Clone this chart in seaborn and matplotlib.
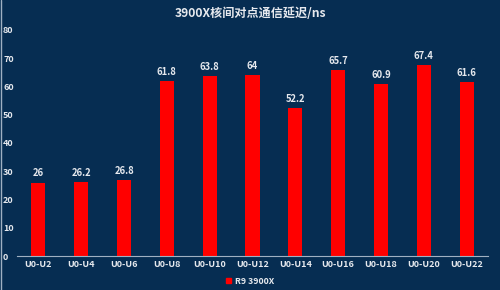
import matplotlib
matplotlib.use("Agg")
import matplotlib.pyplot as plt
import seaborn as sns
import pandas as pd

categories = ["U0-U2", "U0-U4", "U0-U6", "U0-U8", "U0-U10", "U0-U12",
              "U0-U14", "U0-U16", "U0-U18", "U0-U20", "U0-U22"]
values = [26, 26.2, 26.8, 61.8, 63.8, 64, 52.2, 65.7, 60.9, 67.4, 61.6]
value_labels = ["26", "26.2", "26.8", "61.8", "63.8", "64", "52.2", "65.7", "60.9", "67.4", "61.6"]
series_name = "R9 3900X"
title = "3900X核间对点通信延迟/ns"
yticks = [0, 10, 20, 30, 40, 50, 60, 70, 80]

sns.set_theme(style="white")
plt.rcParams['font.family'] = ['Noto Sans CJK SC', 'DejaVu Sans']

bg = "#062d52"
txt = "#e6e9ee"

df = pd.DataFrame({"cat": categories, "val": values, "series": series_name})

fig = plt.figure(figsize=(5, 2.9), dpi=100, facecolor=bg)
ax = fig.add_axes([0.034, 0.117, 0.942, 0.780])
ax.set_facecolor(bg)
sns.barplot(data=df, x="cat", y="val", hue="series", palette=["#ff0000"],
            width=0.33, ax=ax, saturation=1, legend=True,
            edgecolor="none", linewidth=0)

ax.set_ylim(0, 80)
ax.set_yticks(yticks)
ax.set_yticklabels([str(t) for t in yticks])
ax.set_xlabel("")
ax.set_ylabel("")
for s in ["top", "right", "left"]:
    ax.spines[s].set_visible(False)
ax.spines["bottom"].set_color("#9fb0c2")
ax.spines["bottom"].set_linewidth(0.8)
ax.tick_params(axis="y", length=0, pad=10, labelsize=6.5, labelcolor=txt)
for lab in ax.get_yticklabels():
    lab.set_horizontalalignment("left")
    lab.set_fontweight("bold")
ax.tick_params(axis="x", length=0, pad=3, labelsize=6.5, labelcolor=txt)
for lab in ax.get_xticklabels():
    lab.set_fontweight("bold")

for cont in ax.containers:
    ax.bar_label(cont, labels=value_labels, padding=3, color=txt,
                 fontsize=6.8, fontweight="bold")

leg = ax.get_legend()
leg.remove()
handles = [plt.Rectangle((0, 0), 1, 1, color="#ff0000")]
fig.legend(handles, [series_name], loc="center", bbox_to_anchor=(0.5, 0.03),
           frameon=False, labelcolor=txt, handlelength=0.6,
           handleheight=0.6, handletextpad=0.4, prop={"weight": "bold", "size": 6.3})

fig.text(0.5, 0.952, title, ha="center", va="center", color=txt,
         fontsize=8.7, fontweight="bold")

fig.add_artist(plt.Line2D([0.001, 0.001], [0, 1], color="#9fb0c2", lw=1,
                          transform=fig.transFigure))

fig.savefig("out.png", dpi=100, facecolor=bg)
